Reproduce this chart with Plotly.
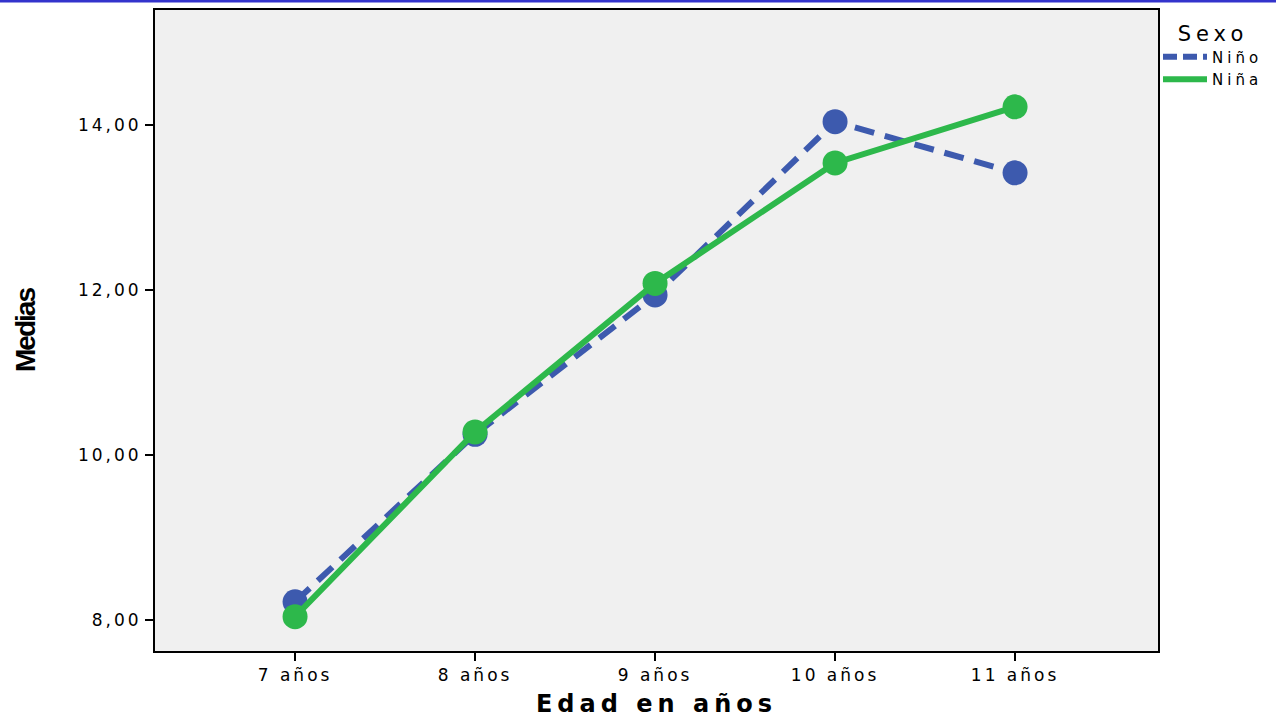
import plotly.graph_objects as go

categories = ["7 años", "8 años", "9 años", "10 años", "11 años"]
nino = [8.22, 10.25, 11.94, 14.04, 13.42]
nina = [8.04, 10.28, 12.08, 13.54, 14.22]
tick_vals = [8, 10, 12, 14]
tick_text = ["8,00", "10,00", "12,00", "14,00"]

blue = "#3d5aae"
green = "#2db84b"


def spaced(s, px=2):
    return f"<span style='letter-spacing:{px}px'>{s}</span>"


xs = list(range(len(categories)))
fig = go.Figure()
fig.add_trace(go.Scatter(
    x=xs, y=nino, name="Niño", mode="lines+markers", showlegend=False,
    line=dict(color=blue, width=6, dash="20px,11px"),
    marker=dict(color=blue, size=25, symbol="circle"),
))
fig.add_trace(go.Scatter(
    x=xs, y=nina, name="Niña", mode="lines+markers", showlegend=False,
    line=dict(color=green, width=6),
    marker=dict(color=green, size=25, symbol="circle"),
))
# legend entries (line only, as in the reference)
fig.add_trace(go.Scatter(x=[None], y=[None], name=spaced("Niño", 4), mode="lines",
                         line=dict(color=blue, width=6, dash="14px,6px")))
fig.add_trace(go.Scatter(x=[None], y=[None], name=spaced("Niña", 4), mode="lines",
                         line=dict(color=green, width=6)))

L, R, T, B = 155, 118, 10, 67
W, H = 1276, 718
pw = W - L - R
ph = H - T - B

fig.update_layout(
    width=W, height=H,
    margin=dict(l=L, r=R, t=T, b=B, pad=0, autoexpand=False),
    paper_bgcolor="white", plot_bgcolor="#f0f0f0",
    font=dict(family="DejaVu Sans, Liberation Sans, Arial, sans-serif", color="black", size=15),
    xaxis=dict(
        tickmode="array", tickvals=xs, ticktext=[spaced(c, 3) for c in categories],
        range=[-0.778, 4.794], showgrid=False, zeroline=False, automargin=False,
        showline=True, linecolor="black", linewidth=2, mirror=True,
        ticks="outside", ticklen=8, tickwidth=2, tickcolor="black",
        tickfont=dict(size=17),
        title=dict(text="<b>" + spaced("Edad en años", 5) + "</b>", font=dict(size=24), standoff=19),
    ),
    yaxis=dict(
        tickmode="array", tickvals=tick_vals, ticktext=[spaced(t, 3) for t in tick_text],
        range=[7.624, 15.394], showgrid=False, zeroline=False, automargin=False,
        showline=True, linecolor="black", linewidth=2, mirror=True,
        ticks="outside", ticklen=8, tickwidth=2, tickcolor="black",
        tickfont=dict(size=17),
        title=dict(text="<b>" + spaced("Medias", -2) + "</b>",
                   font=dict(size=28, family="Liberation Sans, Arial, sans-serif"),
                   standoff=34),
    ),
    legend=dict(
        x=1.0, y=0.995, xanchor="left", yanchor="top",
        title=dict(text=spaced("Sexo", 5), font=dict(size=21), side="top center"),
        font=dict(size=15), bgcolor="rgba(0,0,0,0)",
        tracegroupgap=0, itemwidth=44,
    ),
    showlegend=True,
    shapes=[dict(
        type="line", xref="paper", yref="paper",
        x0=-L / pw, x1=(W - L) / pw, y0=1 + (T - 1) / ph, y1=1 + (T - 1) / ph,
        line=dict(color="#3333cc", width=3),
    )],
)

fig.write_html("out.html", config={"displayModeBar": False},
               post_script="document.body.style.margin='0';")
